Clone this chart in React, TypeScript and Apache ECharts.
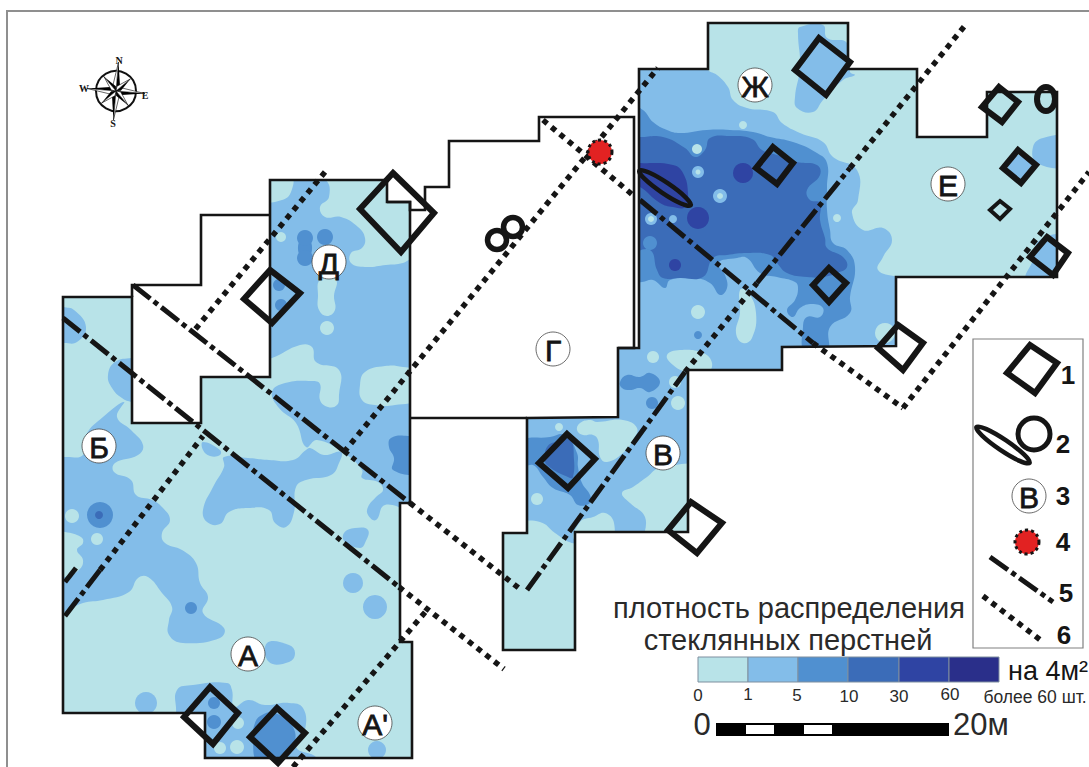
import React, { useEffect, useRef } from "react";
import * as echarts from "echarts";

type P = number[];

const levelColors = ["#b8e3e8", "#83bde9", "#5090d0", "#3b6cb8", "#2f44a3", "#2a2f8a"];
const legendTicks = ["0", "1", "5", "10", "30", "60"];
const legendCellEdges = [698, 748, 798, 848, 899, 949, 999];

const siteWest: P[] = [[63,297],[132,297],[132,423],[201,423],[201,377],[270,377],[270,180],[387,180],[387,202],[410,202],[410,503],[400,503],[400,642],[412,642],[412,758],[205,758],[205,713],[63,713]];
const siteEast: P[] = [[639,69],[708,69],[708,23],[848,23],[848,69],[917,69],[917,137],[987,137],[987,92],[1057,92],[1057,277],[896,277],[896,346],[782,347],[782,370],[688,370],[688,532],[575,532],[575,650],[503,650],[503,533],[527,533],[527,418],[618,417],[618,348],[639,348]];
const borderNorth: P[] = [[132,297],[132,285],[201,285],[201,215],[270,215]];
const borderMiddle: P[] = [[387,202],[410,202],[410,210],[425,210],[425,187],[449,187],[449,141],[539,141],[539,117],[634,117],[634,348],[618,348]];
const borderSouth: P[] = [[410,418],[527,418]];

// density contours, level 1
const westLeft: P[] = [[50,457],[65,457],[83,455],[86,435],[103,417],[124,402],[117,417],[131,430],[143,445],[138,455],[115,463],[114,472],[131,480],[136,495],[152,500],[162,507],[170,520],[162,533],[165,543],[182,550],[196,563],[200,583],[208,597],[203,613],[224,628],[220,638],[183,643],[169,635],[169,620],[172,607],[162,593],[148,577],[138,578],[129,592],[103,600],[83,603],[65,612],[50,620]];
const westNotch: P[] = [[132,358],[115,362],[108,375],[112,388],[122,398],[132,402],[142,402],[142,358]];
const westCorner: P[] = [[55,305],[63,307],[74,310],[86,327],[77,342],[63,343],[55,343]];
const westCentre: P[] = [[224,457],[248,458],[269,460],[293,460],[306,450],[310,448],[324,455],[341,452],[339,463],[331,475],[306,480],[296,487],[294,512],[286,527],[275,523],[269,510],[248,508],[229,512],[220,524],[207,522],[203,510],[213,487],[224,467]];
const westCross: P[] = [[203,442],[220,450],[220,455],[210,456],[203,450]];
const northBlock: P[] = [[255,172],[293,176],[325,180],[329,197],[320,207],[325,217],[341,217],[358,227],[365,238],[362,248],[351,253],[351,263],[365,267],[386,265],[403,263],[418,257],[418,508],[385,505],[376,520],[368,515],[368,507],[376,497],[383,490],[378,482],[362,478],[362,470],[344,453],[317,440],[306,447],[296,423],[279,408],[272,392],[285,383],[312,381],[320,384],[320,400],[328,407],[337,405],[339,395],[339,370],[316,362],[312,347],[300,345],[272,358],[255,362]];
const westPatch: P[] = [[344,533],[355,528],[368,530],[365,543],[360,548],[345,542]];
const southTail: P[] = [[267,643],[289,645],[295,653],[289,662],[269,662]];
const southBand: P[] = [[177,690],[193,685],[227,683],[232,690],[234,707],[248,700],[265,705],[289,703],[303,708],[305,730],[296,747],[317,758],[317,772],[170,772],[176,713]];
const eastMain: P[] = [[628,60],[704,60],[708,70],[717,75],[728,87],[733,100],[747,108],[773,112],[782,123],[800,133],[823,142],[833,157],[857,170],[858,200],[852,213],[863,230],[883,228],[892,240],[883,257],[878,270],[897,277],[908,280],[908,358],[792,358],[792,380],[698,380],[698,545],[515,545],[515,408],[606,408],[606,336],[628,336]];
const eastTop: P[] = [[798,33],[800,27],[823,25],[827,38],[847,43],[850,72],[855,75],[843,80],[823,100],[813,112],[797,108],[795,97],[800,67]];
const eastRight: P[] = [[1033,147],[1043,138],[1068,138],[1068,165],[1037,163]];
const eastDiamond: P[] = [[1018,155],[1032,166],[1022,180],[1008,168]];
const eastCorner: P[] = [[1040,240],[1068,238],[1068,285],[1027,280],[1033,260]];

// density contours, higher levels
const eastLevel2: P[] = [[628,104],[643,110],[653,122],[667,130],[680,133],[707,130],[730,130],[753,132],[770,137],[793,142],[817,153],[827,163],[827,187],[827,210],[830,230],[833,243],[847,250],[855,267],[850,297],[850,313],[830,327],[827,352],[805,352],[803,327],[807,317],[820,317],[823,308],[812,304],[800,308],[793,317],[787,310],[795,300],[798,288],[795,282],[777,277],[760,273],[747,258],[737,258],[718,263],[725,275],[727,288],[720,295],[710,283],[693,278],[670,280],[665,288],[653,280],[642,282],[628,282]];
const eastLevel3: P[] = [[628,137],[640,137],[663,137],[685,148],[695,157],[705,150],[710,138],[730,136],[752,139],[762,150],[777,155],[797,162],[817,165],[820,175],[807,190],[810,200],[820,203],[820,220],[825,238],[827,248],[843,257],[847,267],[837,273],[823,277],[807,277],[787,273],[777,263],[770,255],[747,253],[727,255],[713,258],[703,277],[680,278],[663,278],[657,270],[650,250],[628,250]];
const eastLevel4: P[] = [[630,163],[640,163],[673,165],[683,173],[688,193],[685,207],[673,207],[660,203],[640,187],[630,185]];
const middleLevel2: P[] = [[620,382],[627,375],[640,377],[650,373],[660,382],[650,392],[640,388],[630,390],[622,388]];
const lowerLevel2: P[] = [[520,442],[550,437],[565,435],[577,453],[578,467],[582,483],[590,495],[590,503],[578,505],[570,495],[553,488],[543,477],[533,465],[520,467]];
const lowerLevel3: P[] = [[547,447],[555,442],[570,440],[574,460],[573,477],[570,478],[547,465],[545,457]];
const northBridge: P[] = [[300,240],[310,240],[310,256],[300,256]];
const southLevel2: P[] = [[255,723],[262,715],[275,713],[293,727],[293,747],[279,762],[258,762],[253,740]];
const rightEdgeLevel2: P[] = [[391,438],[408,436],[416,440],[416,472],[393,470],[394,458],[389,447]];

// light patches inside the darker contours
const lightWestSide: P[] = [[55,532],[65,532],[81,537],[83,543],[77,550],[83,560],[79,570],[65,577],[55,577]];
const lightNorthColumn: P[] = [[320,280],[336,280],[334,296],[335,310],[327,316],[319,310],[318,296]];
const lightNorthCorner: P[] = [[262,174],[291,176],[291,192],[282,200],[262,200]];
const lightNorthEast: P[] = [[365,372],[385,366],[403,367],[418,372],[418,398],[395,405],[375,405],[362,400],[360,385]];
const lightEastColumn: P[] = [[740,290],[748,292],[756,313],[752,338],[743,343],[736,333],[740,313]];
const lightMiddle: P[] = [[667,355],[680,350],[703,353],[712,363],[707,373],[687,372],[673,365]];
const lightLowerTop: P[] = [[580,423],[590,420],[597,422],[623,420],[637,428],[633,440],[623,453],[607,462],[600,457],[598,440],[593,435],[583,435],[577,430]];
const lightLowerRight: P[] = [[622,493],[633,487],[647,477],[660,468],[700,470],[700,545],[647,545],[645,517],[630,503]];
const lightLowerBottom: P[] = [[580,522],[593,517],[605,513],[614,523],[610,540],[575,540]];
const lightLowerFoot: P[] = [[495,526],[515,522],[540,522],[555,533],[565,540],[585,552],[585,665],[495,665]];

// [x, y, radius]
const level1Dots: P[] = [[353,583,10],[375,607,12],[146,703,11],[377,750,9],[651,219,6],[698,172,6],[720,196,7],[673,219,4]];
const level2Dots: P[] = [[100,515,13],[191,608,6],[305,238,8],[325,237,8],[305,258,8],[279,285,6],[281,305,6],[214,703,6],[214,722,7],[650,243,7],[698,335,4],[652,403,6]];
const level3Dots: P[] = [[99,515,4]];
const level4Dots: P[] = [[698,218,11],[743,173,10],[675,265,6]];
const lightDots: P[] = [[72,516,7],[97,539,6],[281,237,5],[327,328,7],[238,723,6],[237,747,7],[220,748,6],[697,149,5],[698,172,2.5],[720,196,3],[651,219,3],[837,218,4],[743,125,4],[698,312,7],[885,333,10],[653,357,6],[678,403,7],[675,382,6],[559,427,4],[537,499,6]];

// lines
const dashDotLines: P[][] = [[[63,318],[399,587]],[[133,285],[410,503]],[[527,590],[685,372]],[[757,283],[850,168]],[[640,200],[813,343]],[[65,616],[100,570]],[[65,582],[76,568]],[[990,557],[1053,602]]];
const dottedLines: P[][] = [[[399,587],[504,669]],[[410,503],[520,589]],[[685,372],[757,283]],[[850,168],[967,23]],[[325,172],[193,332]],[[344,452],[658,68]],[[100,570],[203,436]],[[543,120],[634,196]],[[813,343],[903,408]],[[903,408],[1089,172]],[[293,767],[427,610]],[[983,596],[1043,642]]];

const diamonds: P[][] = [[[393,173],[434,213],[401,252],[360,209]],[[270,270],[300,293],[272,323],[244,299]],[[210,687],[238,713],[213,744],[184,717]],[[277,708],[305,733],[278,763],[250,737]],[[819,38],[850,62],[826,95],[795,70]],[[999,87],[1018,102],[1002,122],[982,107]],[[1018,150],[1036,165],[1021,183],[1003,168]],[[1000,201],[1010,209],[1000,219],[990,210]],[[1047,237],[1068,253],[1053,275],[1030,257]],[[773,147],[793,163],[777,184],[756,168]],[[829,268],[846,283],[829,302],[813,285]],[[898,325],[923,343],[903,370],[878,348]],[[691,502],[722,523],[697,553],[668,530]],[[567,434],[595,459],[568,488],[539,463]],[[1030,345],[1057,363],[1035,393],[1007,373]]];

// [x, y, rx, ry, degrees, stroke]
const rings: P[] = [[665,188,31,5.5,-34,4.5],[1003,445,32,5.5,-34,4.5],[1034,434,16,16,0,5],[1046,99,9,12,0,6],[497,240,9.5,9.5,0,5.5],[513,227,9.5,9.5,0,5.5]];
const redMarks: P[] = [[600,152],[1027,542]];

const zoneLabels: (string | number)[][] = [["А",248,654],["А'",375,723],["Б",99,446],["В",663,453],["Г",553,349],["Д",329,262],["Е",948,184],["Ж",755,85],["В",1029,496]];
const legendNumbers: (string | number)[][] = [["1",1068,375],["2",1063,444],["3",1063,496],["4",1063,542],["5",1066,593],["6",1064,635]];
const legendTickAnchors: P[] = [[698,695],[748,694],[797,695],[849,696],[899,696],[950,694]];
const scaleBlack: P[] = [716,949,723,736];
const scaleWhite: P[] = [[746,774],[804,832]];
const compassCentre: P = [116,91];
const compassRays: P[] = [[5,29],[95,29],[185,29],[275,29],[50,19],[140,19],[230,19],[320,19]];
const compassLetters: (string | number)[][] = [["N",119,60],["S",113,123],["W",84,88],["E",145,95]];
const frame: P[] = [[1089,11],[7,11],[7,767]];
const legendBox: P[] = [[973,339],[1083,339],[1083,648],[973,648]];

const INK = "#151515";
const SANS = "Liberation Sans";

type Item = (api: any) => any;
const items: Item[] = [];

const map = (api: any, pts: P[]) => pts.map((p) => api.coord([p[0], p[1]]));
const blob = (pts: P[], level: number) =>
  items.push((api) => ({ type: "polygon", shape: { points: map(api, pts), smooth: 0.45 }, style: { fill: levelColors[level] } }));
const dots = (list: P[], level: number) =>
  list.forEach((d) =>
    items.push((api) => {
      const c = api.coord([d[0], d[1]]);
      return { type: "circle", shape: { cx: c[0], cy: c[1], r: api.size([d[2], 0])[0] }, style: { fill: levelColors[level] } };
    }),
  );
const poly = (pts: P[], style: any, closed = false) =>
  items.push((api) => ({ type: closed ? "polygon" : "polyline", shape: { points: map(api, pts) }, style: closed ? style : { fill: null, ...style } }));
const text = (t: string, x: number, y: number, size: number, extra: any = {}) =>
  items.push((api) => {
    const c = api.coord([x, y]);
    return { type: "text", style: { text: t, x: c[0], y: c[1], align: "center", verticalAlign: "middle", fontSize: size, fontFamily: SANS, fill: INK, ...extra } };
  });

// base and contours
[siteWest, siteEast].forEach((s) => poly(s, { fill: levelColors[0] }, true));
[westLeft, westNotch, westCorner, westCentre, westCross, northBlock, westPatch, southTail, southBand, eastMain, eastTop, eastRight, eastDiamond, eastCorner].forEach((b) => blob(b, 1));
dots(level1Dots.slice(0, 4), 1);
[lightWestSide, lightNorthColumn, lightNorthCorner, lightNorthEast, lightEastColumn, lightMiddle, lightLowerTop, lightLowerRight, lightLowerBottom, lightLowerFoot].forEach((b) => blob(b, 0));
[eastLevel2, middleLevel2, lowerLevel2, southLevel2, rightEdgeLevel2, northBridge].forEach((b) => blob(b, 2));
dots(level2Dots.slice(0, 9), 2);
[eastLevel3, lowerLevel3].forEach((b) => blob(b, 3));
dots(level2Dots.slice(9), 2);
dots(level3Dots, 3);
blob(eastLevel4, 4);
dots(level4Dots, 4);
dots(level1Dots.slice(4), 1);
dots(lightDots, 0);

// everything outside the excavated area is white
items.push((api) => {
  const outer = map(api, [[0,0],[1089,0],[1089,767],[0,767]]);
  const toD = (pts: number[][]) => "M" + pts.map((p) => p[0] + " " + p[1]).join("L") + "Z";
  const holes = [siteWest, siteEast].map((s) => toD(map(api, s).reverse())).join("");
  return { type: "path", shape: { pathData: toD(outer) + holes }, style: { fill: "#ffffff" } };
});

// frame, legend box
poly(frame, { stroke: "#8f8f8f", lineWidth: 2 });
poly(legendBox, { fill: "#ffffff", stroke: "#808080", lineWidth: 1.2 }, true);

// borders
[siteWest, siteEast].forEach((s) => poly(s, { fill: "none", stroke: INK, lineWidth: 2.6, lineJoin: "miter" }, true));
[borderNorth, borderMiddle, borderSouth].forEach((b) => poly(b, { stroke: INK, lineWidth: 2.6 }));

// section lines
dashDotLines.forEach((l) => poly(l, { stroke: INK, lineWidth: 5, lineDash: [22, 4.5, 5, 4.5] }));
dottedLines.forEach((l) => poly(l, { stroke: INK, lineWidth: 5.5, lineDash: [5.5, 5.5] }));

// finds
diamonds.forEach((d, i) => poly(d, { fill: "none", stroke: INK, lineWidth: i === 7 ? 4 : 6, lineJoin: "miter" }, true));
rings.forEach((r) =>
  items.push((api) => {
    const c = api.coord([r[0], r[1]]);
    return { type: "ellipse", x: c[0], y: c[1], rotation: (r[4] * Math.PI) / 180, shape: { cx: 0, cy: 0, rx: api.size([r[2], 0])[0], ry: api.size([r[3], 0])[0] }, style: { fill: "none", stroke: INK, lineWidth: r[5] } };
  }),
);
redMarks.forEach((m) =>
  items.push((api) => {
    const c = api.coord([m[0], m[1]]);
    return { type: "circle", shape: { cx: c[0], cy: c[1], r: 12 }, style: { fill: "#e22222", stroke: INK, lineWidth: 3, lineDash: [3, 3] } };
  }),
);

// zone labels
zoneLabels.forEach((z) => {
  items.push((api) => {
    const c = api.coord([z[1], z[2]]);
    return { type: "circle", shape: { cx: c[0], cy: c[1], r: 17 }, style: { fill: "#ffffff", stroke: "#444444", lineWidth: 0.8 } };
  });
  text(z[0] as string, z[1] as number, (z[2] as number) + 1, 30, { stroke: INK, lineWidth: 0.8 });
});
legendNumbers.forEach((n) => text(n[0] as string, n[1] as number, n[2] as number, 26, { fontWeight: "bold" }));

// colour scale
levelColors.forEach((color, i) =>
  items.push((api) => {
    const a = api.coord([legendCellEdges[i], 657]);
    const b = api.coord([legendCellEdges[i + 1], 682]);
    return { type: "rect", shape: { x: a[0], y: a[1], width: b[0] - a[0], height: b[1] - a[1] }, style: { fill: color, stroke: "#7f8f9f", lineWidth: 1 } };
  }),
);
legendTicks.forEach((t, i) => text(t, legendTickAnchors[i][0], legendTickAnchors[i][1], 17, { fill: "#2a2a2a" }));
text("более 60 шт.", 1035, 697, 17.5, { fill: "#2a2a2a" });
text("на 4м²", 1048, 671, 27);
text("плотность распределения", 789, 608, 29, { fill: "#2a2a2a" });
text("стеклянных перстней", 788, 640, 29, { fill: "#2a2a2a" });

// scale bar
text("0", 702, 724, 31, { fill: "#2a2a2a" });
text("20м", 981, 724, 31, { fill: "#2a2a2a" });
items.push((api) => {
  const a = api.coord([scaleBlack[0], scaleBlack[2]]);
  const b = api.coord([scaleBlack[1], scaleBlack[3]]);
  return { type: "rect", shape: { x: a[0], y: a[1], width: b[0] - a[0], height: b[1] - a[1] }, style: { fill: "#000000" } };
});
scaleWhite.forEach((w) =>
  items.push((api) => {
    const a = api.coord([w[0], scaleBlack[2] + 2]);
    const b = api.coord([w[1], scaleBlack[3] - 2]);
    return { type: "rect", shape: { x: a[0], y: a[1], width: b[0] - a[0], height: b[1] - a[1] }, style: { fill: "#ffffff" } };
  }),
);

// compass
items.push((api) => {
  const c = api.coord(compassCentre);
  return { type: "circle", shape: { cx: c[0], cy: c[1], r: 20 }, style: { fill: "#ffffff", stroke: "#111111", lineWidth: 2 } };
});
compassRays.forEach((ray) => {
  const rad = (ray[0] * Math.PI) / 180;
  const along = [Math.sin(rad), -Math.cos(rad)];
  const across = [Math.cos(rad), Math.sin(rad)];
  const tip = [compassCentre[0] + along[0] * ray[1], compassCentre[1] + along[1] * ray[1]];
  const w = ray[1] > 20 ? 3.5 : 3;
  const base = ray[1] * 0.2;
  const sideA = [compassCentre[0] + along[0] * base + across[0] * w, compassCentre[1] + along[1] * base + across[1] * w];
  const sideB = [compassCentre[0] + along[0] * base - across[0] * w, compassCentre[1] + along[1] * base - across[1] * w];
  poly([tip, sideA, compassCentre], { fill: "#000000" }, true);
  poly([tip, sideB, compassCentre], { fill: "#ffffff", stroke: "#000000", lineWidth: 0.6 }, true);
});
compassLetters.forEach((l) => text(l[0] as string, l[1] as number, l[2] as number, 10, { fontFamily: "Liberation Serif", fontWeight: "bold" }));

export default function App() {
  const ref = useRef<HTMLDivElement>(null);
  useEffect(() => {
    const chart = echarts.init(ref.current!, undefined, { renderer: "svg" });
    chart.setOption({
      animation: false,
      backgroundColor: "#ffffff",
      grid: { left: 0, right: 0, top: 0, bottom: 0 },
      xAxis: { type: "value", min: 0, max: 1089, show: false },
      yAxis: { type: "value", min: 0, max: 767, inverse: true, show: false },
      series: [
        {
          type: "custom",
          coordinateSystem: "cartesian2d",
          clip: false,
          silent: true,
          data: items.map((_, i) => [i, 0]),
          encode: { x: 0, y: 1 },
          renderItem: (params: any, api: any) => items[params.dataIndex](api),
        },
      ],
    });
    return () => chart.dispose();
  }, []);
  return <div ref={ref} style={{ position: "absolute", left: 0, top: 0, width: 1089, height: 767 }} />;
}
